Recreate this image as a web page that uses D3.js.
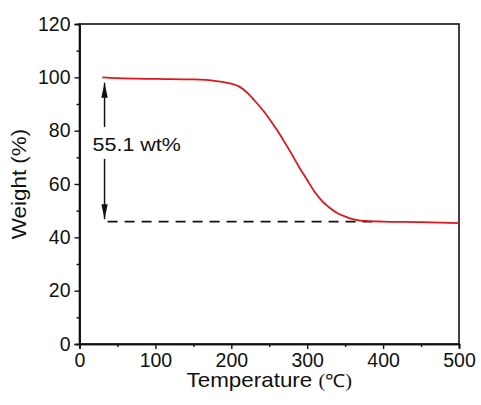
<!DOCTYPE html>
<html>
<head>
<meta charset="utf-8">
<script src="https://cdn.jsdelivr.net/npm/d3@7"></script>
<style>
    body { margin: 0; background: #fff; }
    svg text { font-family: "Liberation Sans", Arial, sans-serif; fill: #111; }
</style>
</head>
<body>
<svg id="chart"></svg>
<script>
// TGA curve
const temps   = [30, 50, 100, 150, 180, 200, 210, 220, 230, 240, 250, 260, 270, 280, 290, 300, 310, 320, 330, 340, 350, 360, 370, 380, 400, 450, 500];
const weights = [100, 99.7, 99.4, 99.2, 98.6, 97.6, 96.6, 94.5, 91.5, 88.2, 84.5, 80.3, 75.8, 71, 66, 61.5, 57, 53.5, 51, 49, 47.8, 46.8, 46.3, 46.1, 45.9, 45.7, 45.3];

const xTicks = [0, 100, 200, 300, 400, 500];
const yTicks = [0, 20, 40, 60, 80, 100, 120];
const xMinor = [50, 150, 250, 350, 450];
const yMinor = [10, 30, 50, 70, 90, 110];

// annotation: weight loss between start and residue
const lossLabel = "55.1 wt%";
const arrowT = 33;
const arrowTop = 98;
const arrowBottom = 46.8;
const residue = 45.9;
const dashRange = [37, 387];

const width = 481, height = 405;
const margin = { top: 24, right: 22, bottom: 61, left: 79.5 };
const chartWidth = width - margin.left - margin.right;
const chartHeight = height - margin.top - margin.bottom;

const svg = d3.select("#chart").attr("width", width).attr("height", height);

svg.append("defs").append("marker")
    .attr("id", "head")
    .attr("viewBox", "0 0 10 10")
    .attr("refX", 10).attr("refY", 5)
    .attr("markerWidth", 15).attr("markerHeight", 8)
    .attr("markerUnits", "userSpaceOnUse")
    .attr("orient", "auto")
    .attr("preserveAspectRatio", "none")
    .append("path").attr("d", "M0,1 L10,5 L0,9 Z").attr("fill", "#111");

const g = svg.append("g").attr("transform", `translate(${margin.left}, ${margin.top})`);

const x = d3.scaleLinear().domain([0, 500]).range([0, chartWidth]);
const y = d3.scaleLinear().domain([0, 120]).range([chartHeight, 0]);

// frame
g.append("rect")
    .attr("width", chartWidth).attr("height", chartHeight)
    .attr("fill", "none").attr("stroke", "#111").attr("stroke-width", 1.6);

// axes
const xAxis = g.append("g").attr("transform", `translate(0, ${chartHeight})`)
    .call(d3.axisBottom(x).tickValues(xTicks).tickSize(5).tickPadding(4));
const xMinorG = g.append("g").attr("transform", `translate(0, ${chartHeight})`)
    .call(d3.axisBottom(x).tickValues(xMinor).tickSize(3).tickFormat(""));
const yAxis = g.append("g")
    .call(d3.axisLeft(y).tickValues(yTicks).tickSize(5).tickPadding(4));
const yMinorG = g.append("g")
    .call(d3.axisLeft(y).tickValues(yMinor).tickSize(3).tickFormat(""));

[xAxis, xMinorG, yAxis, yMinorG].forEach(a => {
    a.select(".domain").attr("stroke", "#111").attr("stroke-width", 1.6);
    a.selectAll(".tick line").attr("stroke", "#111").attr("stroke-width", 1.4);
    a.selectAll(".tick text").attr("font-size", 19.5).attr("fill", "#111")
        .style("font-family", "'Liberation Sans', Arial, sans-serif");
});

// residue dashed line
g.append("line")
    .attr("x1", x(dashRange[0])).attr("x2", x(dashRange[1]))
    .attr("y1", y(residue)).attr("y2", y(residue))
    .attr("stroke", "#111").attr("stroke-width", 1.6)
    .attr("stroke-dasharray", "10,7");

// curve
const pts = temps.map((t, i) => [t, weights[i]]);
g.append("path")
    .datum(pts)
    .attr("fill", "none")
    .attr("stroke", "#e3141b")
    .attr("stroke-width", 1.8)
    .attr("d", d3.line().x(d => x(d[0])).y(d => y(d[1])).curve(d3.curveMonotoneX));

// arrows around label
const labelY = y((arrowTop + arrowBottom) / 2);
g.append("line")
    .attr("x1", x(arrowT)).attr("x2", x(arrowT))
    .attr("y1", labelY - 24).attr("y2", y(arrowTop))
    .attr("stroke", "#111").attr("stroke-width", 1.5)
    .attr("marker-end", "url(#head)");
g.append("line")
    .attr("x1", x(arrowT)).attr("x2", x(arrowT))
    .attr("y1", labelY + 8).attr("y2", y(arrowBottom))
    .attr("stroke", "#111").attr("stroke-width", 1.5)
    .attr("marker-end", "url(#head)");
g.append("text")
    .attr("transform", `translate(${x(arrowT) - 12}, ${labelY}) scale(1.13, 1)`)
    .attr("font-size", 19)
    .text(lossLabel);

// titles
const xt = svg.append("text")
    .attr("transform", `translate(${margin.left + chartWidth / 2}, 387) scale(1.12, 1)`)
    .attr("text-anchor", "middle")
    .attr("font-size", 20);
xt.append("tspan").text("Temperature ");
xt.append("tspan")
    .style("font-family", "'Liberation Serif', 'Times New Roman', serif")
    .attr("font-size", 18)
    .text("(\u2103)");

svg.append("text")
    .attr("transform", `translate(26, ${margin.top + chartHeight / 2}) rotate(-90) scale(1.12, 1)`)
    .attr("text-anchor", "middle")
    .attr("font-size", 20)
    .text("Weight (%)");
</script>
</body>
</html>
